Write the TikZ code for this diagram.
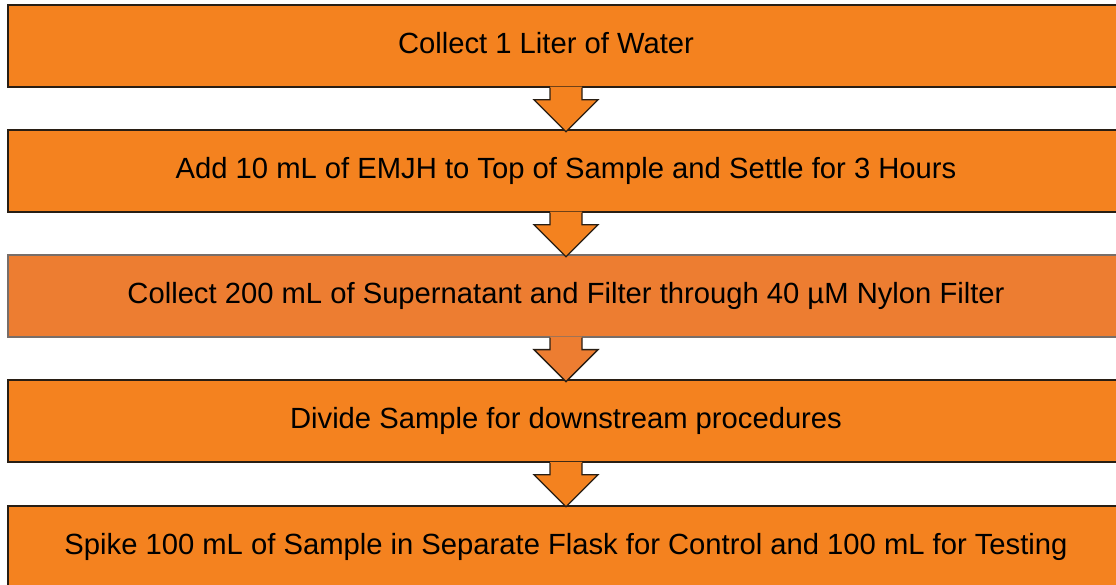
\documentclass[tikz,border=0pt]{standalone}
\usepackage{fontspec}
\setmainfont{Liberation Sans}
\usetikzlibrary{calc}
\definecolor{orgA}{RGB}{244,130,31}
\definecolor{orgB}{RGB}{237,125,49}
\definecolor{edgeA}{RGB}{40,30,20}
\definecolor{edgeB}{RGB}{120,110,105}
\tikzset{
  stepbox/.style={draw=edgeA, line width=1.5pt, fill=orgA, minimum width=1116pt, minimum height=82pt, inner sep=0pt, text height=21pt, text depth=6pt, font=\fontsize{29.2}{34}\selectfont, text=black},
  stepboxB/.style={stepbox, draw=edgeB, line width=1.2pt, fill=orgB},
  pics/flowarrow/.style={code={
    \fill[#1] (-16pt,1pt) -- (-16pt,-12pt) -- (-32pt,-12pt) -- (0pt,-44pt) -- (32pt,-12pt) -- (16pt,-12pt) -- (16pt,1pt) -- cycle;
    \draw[edgeA, line width=1.3pt, line join=miter] (-16pt,0pt) -- (-16pt,-12pt) -- (-32pt,-12pt) -- (0pt,-44pt) -- (32pt,-12pt) -- (16pt,-12pt) -- (16pt,0pt);
  }}
}
\begin{document}
\begin{tikzpicture}[x=1pt,y=-1pt]
\useasboundingbox (0,0) rectangle (1116,585);
\clip (0,0) rectangle (1116,585);
\node[stepbox] (b1) at (566,46) {Collect 1 Liter of Water\hspace*{40pt}};
\node[stepbox] (b2) at (566,171) {Add 10 mL of EMJH to Top of Sample and Settle for 3 Hours};
\node[stepboxB] (b3) at (566,296) {Collect 200 mL of Supernatant and Filter through 40 µM Nylon Filter};
\node[stepbox] (b4) at (566,421) {Divide Sample for downstream procedures};
\node[stepbox] (b5) at (566,547) {Spike 100 mL of Sample in Separate Flask for Control and 100 mL for Testing};
\pic at (b1.south) {flowarrow=orgA};
\pic at (b2.south) {flowarrow=orgA};
\pic at (b3.south) {flowarrow=orgB};
\pic at (b4.south) {flowarrow=orgA};
\end{tikzpicture}
\end{document}
